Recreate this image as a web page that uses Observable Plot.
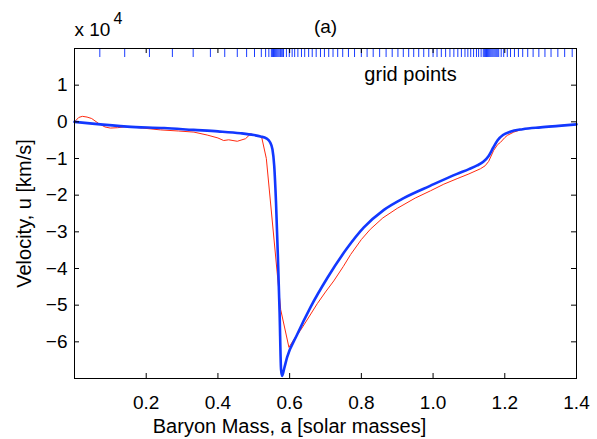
<!DOCTYPE html>
<html><head><meta charset="utf-8">
<script src="https://cdn.jsdelivr.net/npm/d3@7"></script>
<script src="https://cdn.jsdelivr.net/npm/@observablehq/plot@0.6"></script>
<style>body{margin:0;background:#fff}</style>
</head><body><div id="chart"></div>
<script>
// Blue (thick) curve: baryon mass [solar masses], velocity [x 10^4 km/s]
const blueMass = [0, 0.05, 0.147, 0.25, 0.332, 0.40, 0.463, 0.50, 0.519, 0.535, 0.545, 0.552, 0.557, 0.562, 0.567, 0.572, 0.576, 0.579, 0.585, 0.593, 0.621, 0.658, 0.705, 0.76, 0.807, 0.863, 0.918, 0.993, 1.067, 1.10, 1.123, 1.14, 1.155, 1.168, 1.18, 1.195, 1.215, 1.25, 1.30, 1.35, 1.4];
const blueVel  = [0.0, -0.05, -0.13, -0.17, -0.22, -0.26, -0.31, -0.36, -0.40, -0.45, -0.55, -0.75, -1.2, -2.2, -3.6, -5.2, -6.75, -6.93, -6.72, -6.42, -5.80, -5.06, -4.26, -3.45, -2.88, -2.40, -2.08, -1.74, -1.42, -1.29, -1.19, -1.09, -0.93, -0.70, -0.50, -0.36, -0.27, -0.20, -0.15, -0.11, -0.07];
// Red (thin) curve
const redMass = [0, 0.012, 0.022, 0.035, 0.048, 0.068, 0.085, 0.10, 0.12, 0.147, 0.19, 0.24, 0.29, 0.333, 0.37, 0.40, 0.416, 0.43, 0.454, 0.477, 0.491, 0.505, 0.522, 0.535, 0.575, 0.598, 0.613, 0.630, 0.652, 0.677, 0.70, 0.723, 0.75, 0.77, 0.80, 0.825, 0.86, 0.90, 0.95, 0.993, 1.03, 1.067, 1.10, 1.132, 1.145, 1.155, 1.169, 1.18, 1.188, 1.20, 1.207, 1.225, 1.253, 1.28, 1.34, 1.4];
const redVel  = [0.0, 0.12, 0.15, 0.13, 0.09, -0.05, -0.14, -0.17, -0.16, -0.13, -0.17, -0.22, -0.25, -0.28, -0.36, -0.44, -0.51, -0.49, -0.53, -0.46, -0.33, -0.37, -0.42, -1.0, -5.12, -6.15, -5.92, -5.69, -5.35, -4.96, -4.64, -4.34, -3.94, -3.62, -3.21, -2.93, -2.62, -2.36, -2.08, -1.88, -1.70, -1.55, -1.42, -1.28, -1.20, -1.08, -0.78, -0.62, -0.56, -0.43, -0.37, -0.28, -0.19, -0.16, -0.11, -0.07];
// Grid point locations (ticks along the top)
const gridPoints = [0, 0.0706, 0.140, 0.209, 0.273, 0.331, 0.379, 0.419, 0.454, 0.480, 0.502, 0.521, 0.533, 0.542,
  0.549, 0.552, 0.555, 0.558, 0.561, 0.564, 0.567, 0.570, 0.573, 0.575, 0.578, 0.581, 0.583,
  0.591, 0.599, 0.607, 0.614, 0.623, 0.633, 0.642, 0.653, 0.663, 0.674, 0.686, 0.697, 0.709, 0.721, 0.734, 0.748, 0.764, 0.781, 0.800, 0.816, 0.833, 0.851, 0.869, 0.886, 0.902, 0.917, 0.932, 0.946, 0.960, 0.974, 0.988, 1.000, 1.011, 1.023, 1.035, 1.047, 1.058, 1.069, 1.079, 1.089, 1.097, 1.105, 1.113, 1.121, 1.127, 1.134,
  1.140, 1.143, 1.146, 1.149, 1.152, 1.155, 1.158, 1.161, 1.164, 1.167, 1.170, 1.173, 1.176, 1.179,
  1.183, 1.190, 1.197, 1.207, 1.216, 1.227, 1.238, 1.250, 1.264, 1.279, 1.295, 1.312, 1.329, 1.348, 1.367, 1.388];
const xTicks = [0.2, 0.4, 0.6, 0.8, 1, 1.2, 1.4];
const yTicks = [-6, -5, -4, -3, -2, -1, 0, 1];
const xLabel = "Baryon Mass, a [solar masses]";
const yLabel = "Velocity, u [km/s]";
const panelTitle = "(a)";
const exponentBase = "x 10";
const exponent = "4";
const gridLabel = "grid points";

const blueData = blueMass.map((m, i) => ({m, u: blueVel[i]}));
const redData = redMass.map((m, i) => ({m, u: redVel[i]}));

const W = 597, H = 439, mL = 74, mR = 21, mT = 48, mB = 61;
const innerH = H - mT - mB, innerW = W - mL - mR;
const font = "'Liberation Sans', Arial, Helvetica, sans-serif";

const chart = Plot.plot({
  width: W, height: H,
  marginLeft: mL, marginRight: mR, marginTop: mT, marginBottom: mB,
  style: {fontFamily: font, fontSize: "19px", background: "white", color: "black"},
  x: {domain: [0, 1.4]},
  y: {domain: [-7, 2]},
  marks: [
    Plot.line(redData, {x: "m", y: "u", stroke: "#ff2a10", strokeWidth: 1}),
    Plot.line(blueData, {x: "m", y: "u", stroke: "#1238ff", strokeWidth: 2.6, curve: "monotone-x"}),
    Plot.tickX(gridPoints, {x: d => d, stroke: "#1a3cff", strokeWidth: 1, insetBottom: innerH - 9}),
    Plot.tickX(xTicks, {x: d => d, stroke: "black", insetTop: innerH - 5}),
    Plot.tickX(xTicks, {x: d => d, stroke: "black", insetBottom: innerH - 5}),
    Plot.tickY(yTicks, {y: d => d, stroke: "black", insetRight: innerW - 5}),
    Plot.tickY(yTicks, {y: d => d, stroke: "black", insetLeft: innerW - 5}),
    Plot.frame({stroke: "black", strokeWidth: 1}),
    Plot.axisX({ticks: xTicks, tickSize: 0, tickPadding: 17, fontSize: 19, label: null}),
    Plot.axisY({ticks: yTicks, tickSize: 0, tickPadding: 7, fontSize: 19, label: null}),
    Plot.text([xLabel], {text: d => d, frameAnchor: "bottom", textAnchor: "middle", lineAnchor: "middle", dx: -36, dy: 48, fontSize: 20}),
    Plot.text([yLabel], {text: d => d, frameAnchor: "left", textAnchor: "middle", lineAnchor: "middle", rotate: -90, dx: -50, fontSize: 20}),
    Plot.text([panelTitle], {text: d => d, frameAnchor: "top", textAnchor: "middle", lineAnchor: "middle", dy: -22, fontSize: 19}),
    Plot.text([exponentBase], {text: d => d, frameAnchor: "top-left", textAnchor: "start", lineAnchor: "middle", dy: -19, fontSize: 19}),
    Plot.text([exponent], {text: d => d, frameAnchor: "top-left", textAnchor: "start", lineAnchor: "middle", dx: 39, dy: -30, fontSize: 16}),
    Plot.text([gridLabel], {text: d => d, frameAnchor: "top", textAnchor: "middle", lineAnchor: "middle", dx: 85, dy: 26, fontSize: 20})
  ]
});
document.getElementById("chart").appendChild(chart);
</script>
</body></html>
